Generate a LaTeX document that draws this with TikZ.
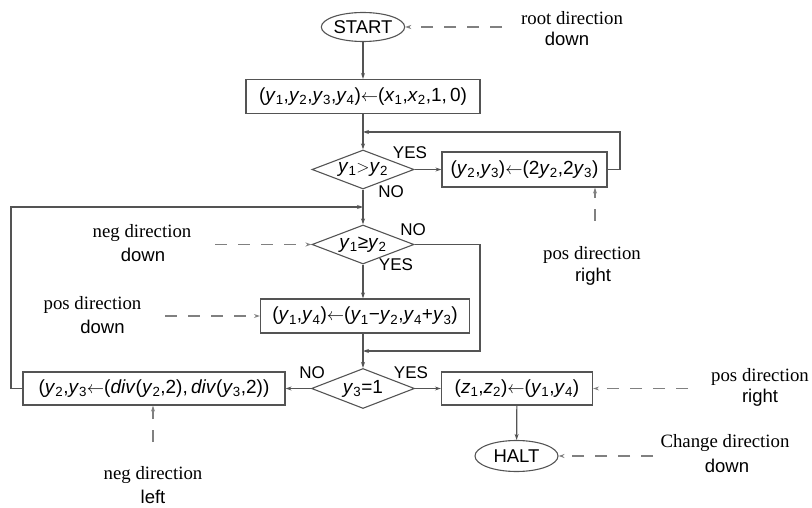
\documentclass[tikz,border=0pt]{standalone}
\usepackage{fontspec}
\setmainfont{Liberation Serif}
\setsansfont{Liberation Sans}
\usetikzlibrary{shapes.geometric,arrows.meta}
\definecolor{lc}{gray}{0.33}
\definecolor{dc}{gray}{0.5}
\newcommand{\vv}[2]{\textit{#1}\textsubscript{#2}}
\begin{document}
\begin{tikzpicture}[x=1pt,y=-1pt,
  every node/.style={font=\sffamily\fontsize{19}{22}\selectfont, text=black},
  procbox/.style={draw=lc, line width=1.2pt, rectangle, inner sep=0pt},
  ell/.style={draw=lc, line width=1.1pt, ellipse, inner sep=0pt, font=\sffamily\fontsize{18.5}{22}\selectfont},
  dec/.style={draw=lc, line width=1.1pt, diamond, inner sep=0pt, aspect=2.6},
  arr/.style={draw=lc, line width=1.2pt, -{Stealth[length=6pt,width=4pt]}},
  dsh/.style={draw=dc, line width=1.2pt, dash pattern=on 12pt off 11pt, -{Stealth[length=6pt,width=4pt]}},
  sline/.style={inner sep=0pt, font=\rmfamily\fontsize{18.8}{22}\selectfont},
  tline/.style={inner sep=0pt, font=\sffamily\fontsize{18.5}{22}\selectfont},
  lbl/.style={inner sep=0pt, font=\sffamily\fontsize{17}{20}\selectfont}]
\useasboundingbox (0,0) rectangle (812,508);

% nodes
\node[ell, minimum width=82pt, minimum height=29pt] (start) at (363,27) {START};
\node[procbox, minimum width=234pt, minimum height=34pt] (b1) at (363,96.5)
  {(\vv{y}{1},\vv{y}{2},\vv{y}{3},\vv{y}{4})$\leftarrow$(\vv{x}{1},\vv{x}{2},1,\,0)};
\node[dec, minimum width=102pt, minimum height=39pt] (d1) at (363,169.5)
  {\makebox[0pt]{\vv{y}{1}$>$\vv{y}{2}}};
\node[procbox, minimum width=165pt, minimum height=35pt] (b2) at (524.5,169.5)
  {(\vv{y}{2},\vv{y}{3})$\leftarrow$(2\vv{y}{2},2\vv{y}{3})};
\node[dec, minimum width=102pt, minimum height=39pt] (d2) at (363,244.5)
  {\makebox[0pt]{\vv{y}{1}≥\vv{y}{2}}};
\node[procbox, minimum width=209pt, minimum height=34pt] (b3) at (365,316)
  {(\vv{y}{1},\vv{y}{4})$\leftarrow$(\vv{y}{1}−\vv{y}{2},\vv{y}{4}+\vv{y}{3})};
\node[dec, minimum width=103pt, minimum height=40pt] (d3) at (363,388.5)
  {\makebox[0pt]{\vv{y}{3}=1}};
\node[procbox, minimum width=262pt, minimum height=33pt] (b4) at (154,388.5)
  {(\vv{y}{2},\vv{y}{3}$\leftarrow$(\textit{div}(\vv{y}{2},2),\,\textit{div}(\vv{y}{3},2))};
\node[procbox, minimum width=151pt, minimum height=33pt] (b5) at (517,388.5)
  {(\vv{z}{1},\vv{z}{2})$\leftarrow$(\vv{y}{1},\vv{y}{4})};
\node[ell, minimum width=83pt, minimum height=31pt] (halt) at (516.5,456) {HALT};

% YES / NO labels
\node[lbl] (yes1) at (410,153) {YES};
\node[lbl] (no1) at (391,192) {NO};
\node[lbl] (no2) at (413,230) {NO};
\node[lbl] (yes2) at (396,265) {YES};
\node[lbl] (no3) at (312,373) {NO};
\node[lbl] (yes3) at (411,373) {YES};

% junction coordinates
\coordinate (j1) at (363,132);
\coordinate (r1) at (620,169.5);
\coordinate (j2) at (363,207);
\coordinate (l1) at (11,388.5);
\coordinate (r2) at (480,244.5);
\coordinate (j3) at (363,351);

% connectors
\draw[arr] (start) -- (b1);
\draw[arr] (b1) -- (d1);
\draw[arr] (d1.east) -- (b2.west);
\draw[arr] (b2.east) -- (r1) |- (j1);
\draw[arr] (d1.south) -- (d2.north);
\draw[arr] (b4.west) -- (l1) |- (j2);
\draw[arr] (d2.south) -- (d2.south |- b3.north);
\draw[arr] (d2.east) -- (r2) |- (j3);
\draw[arr] (d3.north |- b3.south) -- (d3.north);
\draw[arr] (d3.west) -- (b4.east);
\draw[arr] (d3.east) -- (b5.west);
\draw[arr] (b5) -- (halt);

% annotations
\node[sline] (a1s) at (572,18) {root direction};
\node[tline] (a1t) at (567,39) {down};
\node[sline] (a2s) at (592,255) {pos direction};
\node[tline] (a2t) at (593,277) {right};
\node[sline] (a3s) at (142,233) {neg direction};
\node[tline] (a3t) at (143,255) {down};
\node[sline] (a4s) at (92.5,305) {pos direction};
\node[tline] (a4t) at (102.5,327) {down};
\node[sline] (a5s) at (760,377) {pos direction};
\node[tline] (a5t) at (760,398) {right};
\node[sline] (a6s) at (725,443) {Change direction};
\node[tline] (a6t) at (727,466) {down};
\node[sline] (a7s) at (153,475) {neg direction};
\node[tline] (a7t) at (153,497) {left};

\coordinate (c1) at (502,27);
\coordinate (c2) at (595,221);
\coordinate (c3) at (215,244.5);
\coordinate (c4) at (165,316);
\coordinate (c5) at (688,388.5);
\coordinate (c6) at (653,456);
\coordinate (c7) at (153,442);

\draw[dsh] (c1) -- (start.east);
\draw[dsh] (c2) -- (c2 |- b2.south);
\draw[dsh] (c3) -- (d2.west);
\draw[dsh] (c4) -- (b3.west);
\draw[dsh] (c5) -- (b5.east);
\draw[dsh] (c6) -- (halt.east);
\draw[dsh] (c7) -- (c7 |- b4.south);
\end{tikzpicture}
\end{document}
